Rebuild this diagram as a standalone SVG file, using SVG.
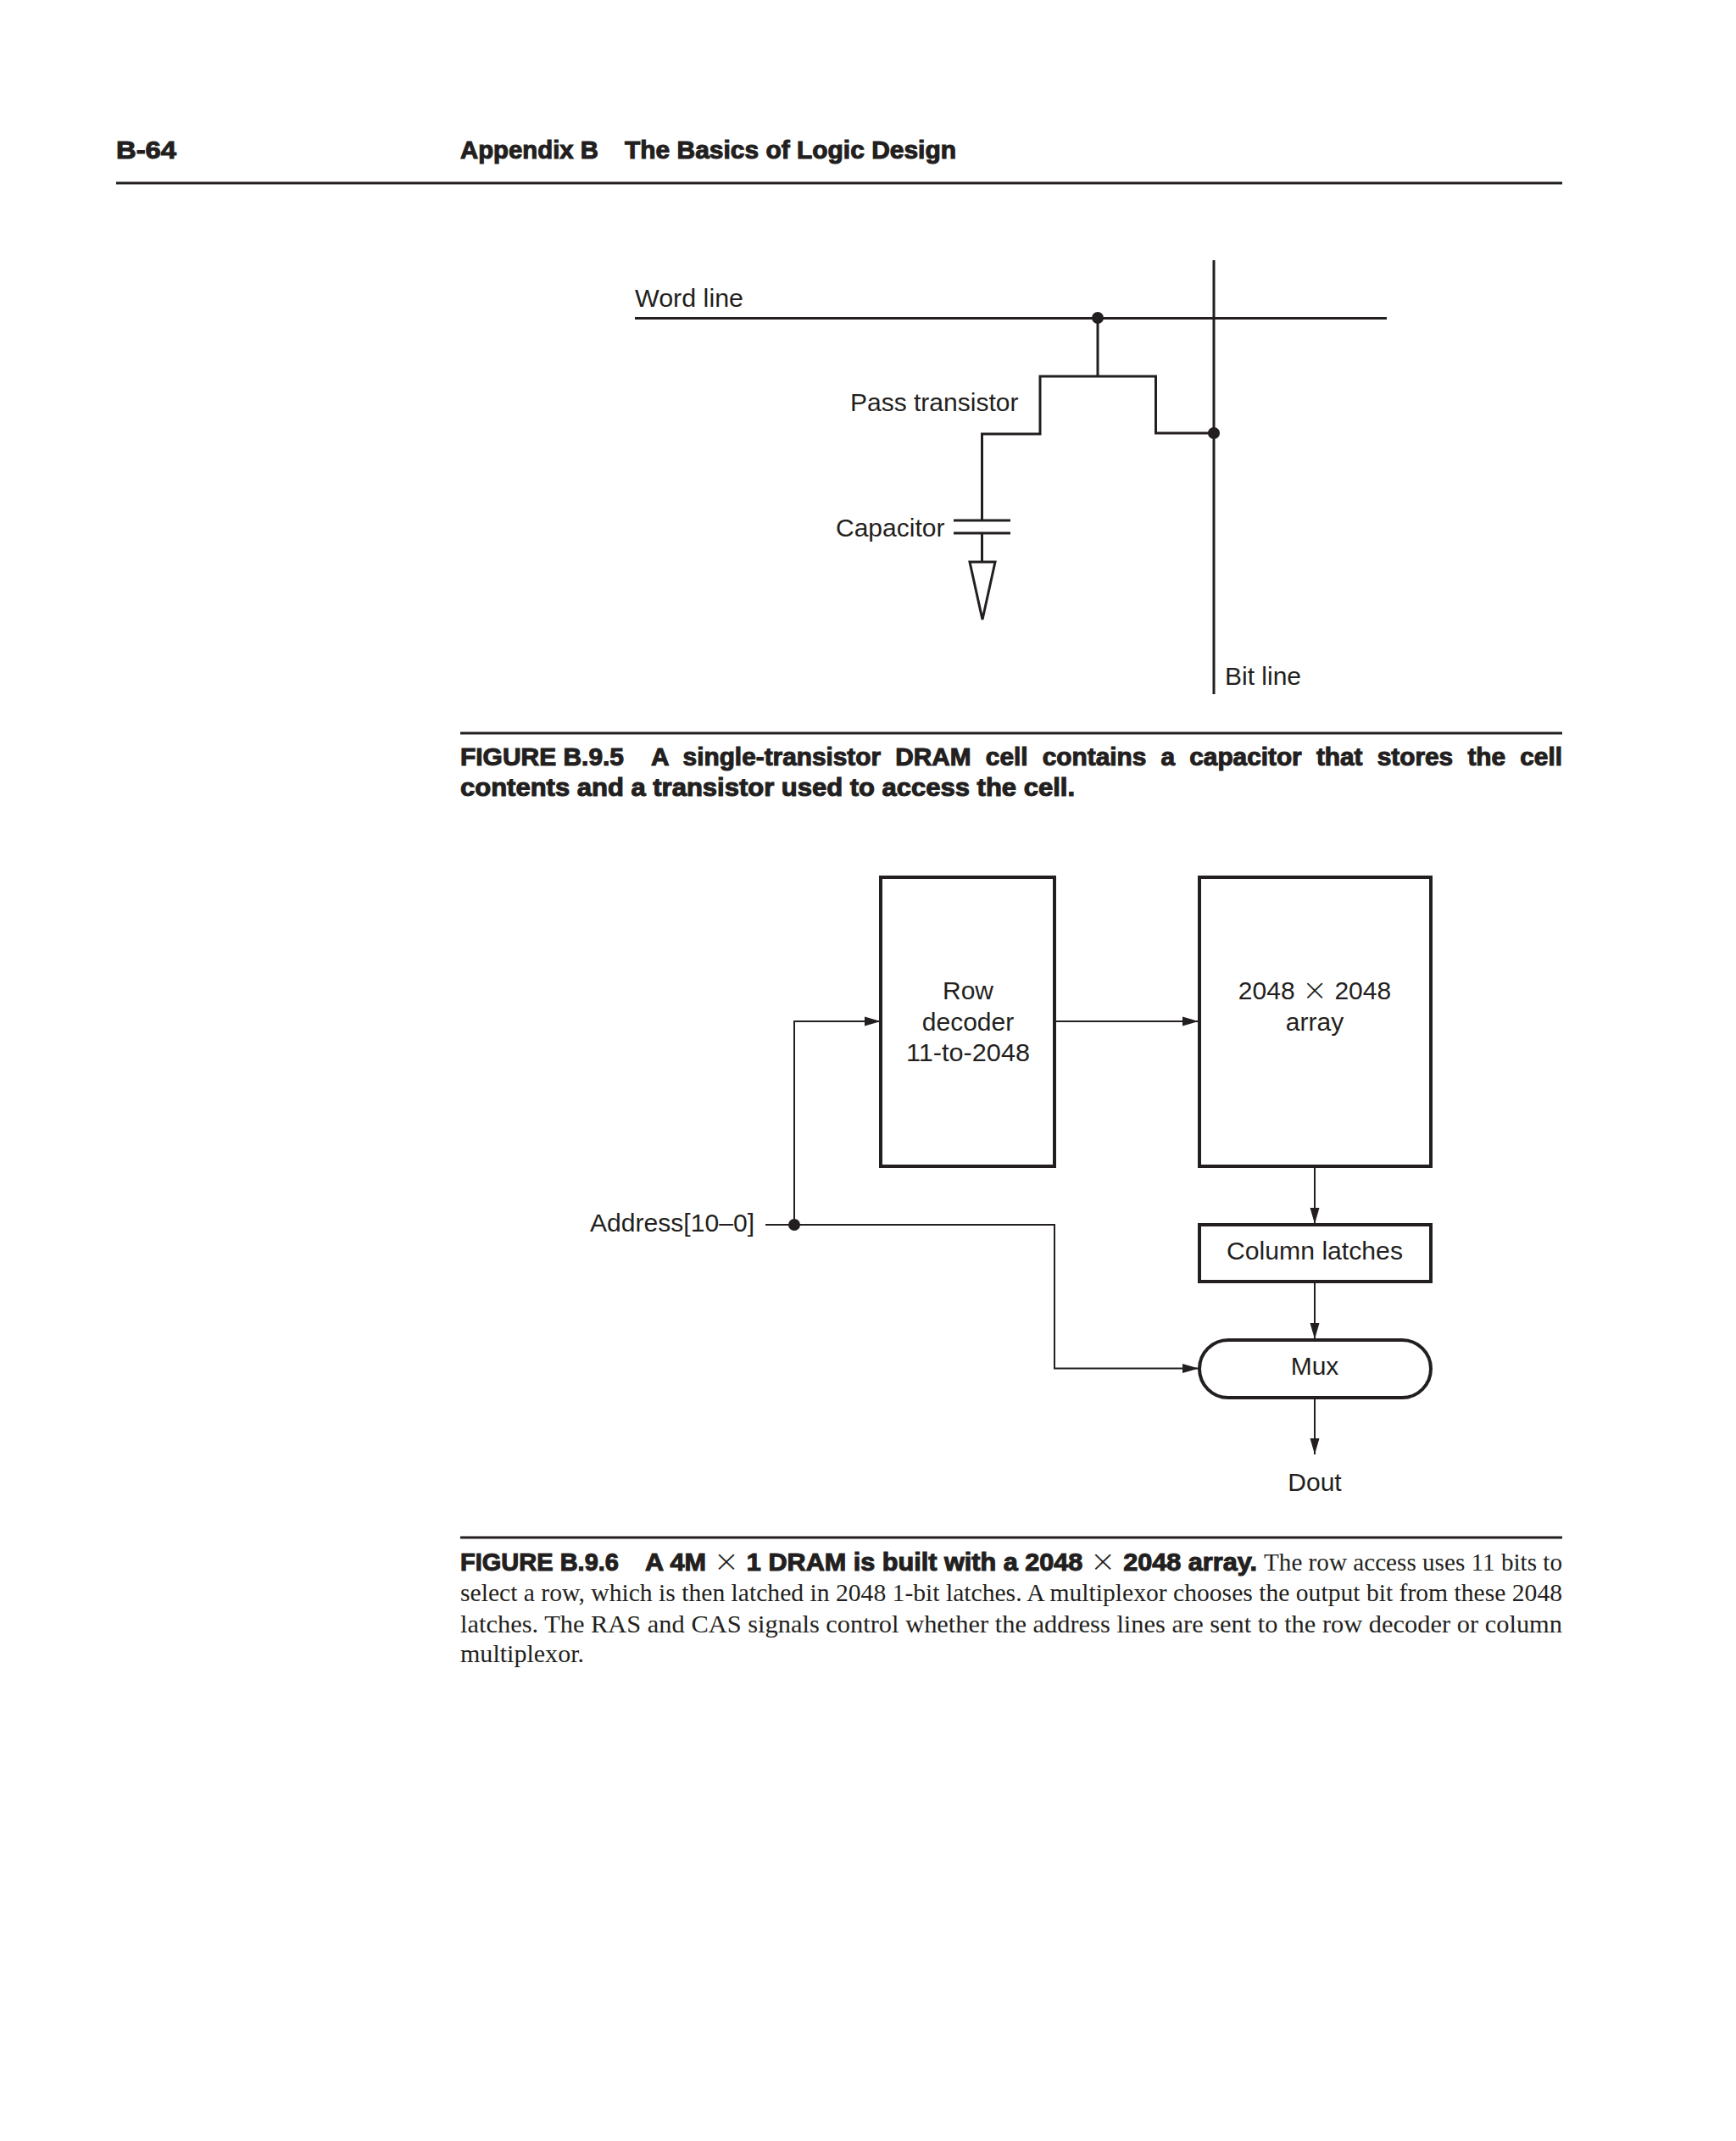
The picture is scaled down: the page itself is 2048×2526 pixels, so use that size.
<svg xmlns="http://www.w3.org/2000/svg" width="2048" height="2526" viewBox="0 0 2048 2526">
<style>
text{fill:#231f20}
.l{font-family:"Liberation Sans",Arial,sans-serif;font-size:30px}
.m{text-anchor:middle}
.h{font-family:"Liberation Sans",Arial,sans-serif;font-size:30px;font-weight:700;stroke:#231f20;stroke-width:1.1px}
.t{font-family:"DejaVu Sans","Liberation Sans",sans-serif;font-weight:200;stroke:none;font-size:36px}
.x{font-family:"DejaVu Sans","Liberation Sans",sans-serif;font-weight:200;font-size:36px}
.s{font-family:"Liberation Serif","Times New Roman",serif;font-size:30px}
.rule{stroke:#231f20;stroke-width:3;fill:none}
.w{stroke:#231f20;stroke-width:3;fill:none}
.a{stroke:#231f20;stroke-width:2;fill:none;marker-end:url(#arr)}
.b{stroke:#231f20;stroke-width:4;fill:#fff}
.d{fill:#231f20}
</style>
<defs>
<marker id="arr" markerUnits="userSpaceOnUse" markerWidth="20" markerHeight="12" refX="19" refY="6" orient="auto"><path d="M0 .5L19 6L0 11.5z" fill="#231f20"/></marker>
</defs>
<rect width="2048" height="2526" fill="#fff"/>
<g id="page-header">
<line class="rule" x1="137" y1="216" x2="1843" y2="216"/>
<text class="h" x="137" y="187" textLength="71" lengthAdjust="spacingAndGlyphs">B-64</text>
<text class="h" x="543" y="187" textLength="163" lengthAdjust="spacingAndGlyphs">Appendix B</text>
<text class="h" x="737" y="187" textLength="391" lengthAdjust="spacingAndGlyphs">The Basics of Logic Design</text>
</g>
<g id="connectors">
<line class="w" x1="749" y1="375.500" x2="1636" y2="375.500"/>
<line class="w" x1="1432" y1="307" x2="1432" y2="819"/>
<path class="w" d="M1295 375V444"/>
<path class="w" d="M1158.500 614V512H1227V444H1363.500V511H1432"/>
<path class="w" d="M1158.500 629V663"/>
<path class="a" d="M903 1445H937V1205H1039"/>
<path class="a" d="M937 1445H1244V1614.500H1414"/>
<path class="a" d="M1244 1205H1414"/>
<path class="a" d="M1551 1376V1444"/>
<path class="a" d="M1551 1512V1580"/>
<path class="a" d="M1551 1649V1716"/>
</g>
<g id="word-line"><text class="l" x="749" y="362" textLength="128" lengthAdjust="spacingAndGlyphs">Word line</text><circle class="d" cx="1295" cy="375" r="7"/></g>
<g id="bit-line"><text class="l" x="1445" y="808">Bit line</text><circle class="d" cx="1432" cy="511" r="7"/></g>
<g id="pass-transistor"><text class="l" x="1003" y="485">Pass transistor</text></g>
<g id="capacitor"><text class="l" x="986" y="633">Capacitor</text>
<line class="w" x1="1125" y1="614" x2="1192" y2="614"/><line class="w" x1="1125" y1="629" x2="1192" y2="629"/></g>
<g id="ground"><path class="w" d="M1144 663H1174L1159 731z"/></g>
<g id="figure-5-caption">
<line class="rule" x1="543" y1="865" x2="1843" y2="865"/>
<text class="h" x="543" y="903" textLength="193" lengthAdjust="spacingAndGlyphs">FIGURE B.9.5</text>
<text class="h" x="768" y="903" textLength="1075" lengthAdjust="spacingAndGlyphs" style="word-spacing:9px">A single-transistor DRAM cell contains a capacitor that stores the cell</text>
<text class="h" x="543" y="939" textLength="725" lengthAdjust="spacingAndGlyphs">contents and a transistor used to access the cell.</text>
</g>
<g id="row-decoder"><rect class="b" x="1039" y="1035" width="205" height="341"/>
<text class="l m" x="1142" y="1179">Row</text><text class="l m" x="1142" y="1216">decoder</text><text class="l m" x="1142" y="1252" textLength="146" lengthAdjust="spacingAndGlyphs">11-to-2048</text></g>
<g id="array"><rect class="b" x="1415" y="1035" width="273" height="341"/>
<text class="l m" x="1551" y="1179">2048 <tspan class="x" dy="1">×</tspan> <tspan dy="-1">2048</tspan></text><text class="l m" x="1551" y="1216">array</text></g>
<g id="column-latches"><rect class="b" x="1415" y="1445" width="273" height="67"/><text class="l m" x="1551" y="1486" textLength="208" lengthAdjust="spacingAndGlyphs">Column latches</text></g>
<g id="mux"><rect class="b" x="1415" y="1581" width="273" height="68" rx="34" ry="34"/><text class="l m" x="1551" y="1622">Mux</text></g>
<g id="dout"><text class="l m" x="1551" y="1759">Dout</text></g>
<g id="address"><text class="l" x="696" y="1453" textLength="194" lengthAdjust="spacingAndGlyphs">Address[10–0]</text><circle class="d" cx="937" cy="1445" r="7"/></g>
<g id="figure-6-caption">
<line class="rule" x1="543" y1="1814" x2="1843" y2="1814"/>
<text class="h" x="543" y="1852.500" textLength="187" lengthAdjust="spacingAndGlyphs">FIGURE B.9.6</text>
<text class="h" x="761" y="1852.500" textLength="722" lengthAdjust="spacingAndGlyphs">A 4M <tspan class="t" dy="1">×</tspan> <tspan dy="-1">1 DRAM is built with a 2048</tspan> <tspan class="t" dy="1">×</tspan> <tspan dy="-1">2048 array.</tspan></text>
<text class="s" x="1491" y="1852.500" textLength="352" lengthAdjust="spacingAndGlyphs">The row access uses 11 bits to</text>
<text class="s" x="543" y="1888.500" textLength="1300" lengthAdjust="spacingAndGlyphs">select a row, which is then latched in 2048 1-bit latches. A multiplexor chooses the output bit from these 2048</text>
<text class="s" x="543" y="1925.500" textLength="1300" lengthAdjust="spacingAndGlyphs">latches. The RAS and CAS signals control whether the address lines are sent to the row decoder or column</text>
<text class="s" x="543" y="1961" textLength="146" lengthAdjust="spacingAndGlyphs">multiplexor.</text>
</g>
</svg>
